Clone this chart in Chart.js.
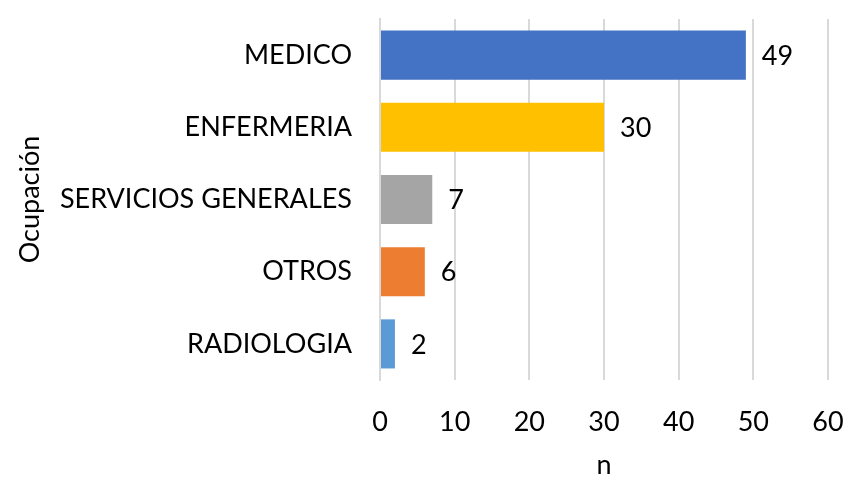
<!DOCTYPE html>
<html>
<head>
<meta charset="utf-8">
<script src="https://cdn.jsdelivr.net/npm/chart.js@4/dist/chart.umd.min.js"></script>
<style>
  html, body { margin: 0; padding: 0; background: #fff; }
  #wrap { width: 864px; height: 483px; }
</style>
</head>
<body>
<div id="wrap"><canvas id="occChart" width="864" height="483"></canvas></div>
<script>
// Data
const categories = ['MEDICO', 'ENFERMERIA', 'SERVICIOS GENERALES', 'OTROS', 'RADIOLOGIA'];
const counts = [49, 30, 7, 6, 2];
const barColors = ['#4472C4', '#FFC000', '#A5A5A5', '#ED7D31', '#5B9BD5'];

const FONT = 'Lato, "Open Sans", sans-serif';
const FSIZE = 27;

// draw the value next to each bar end
const valueLabels = {
    id: 'valueLabels',
    afterDatasetsDraw(chart) {
        const ctx = chart.ctx;
        const meta = chart.getDatasetMeta(0);
        ctx.save();
        ctx.font = FSIZE + 'px ' + FONT;
        ctx.fillStyle = '#000';
        ctx.textAlign = 'left';
        ctx.textBaseline = 'middle';
        meta.data.forEach((bar, i) => {
            ctx.fillText(String(counts[i]), bar.x + 16, bar.y + 1);
        });
        ctx.restore();
    }
};

new Chart(document.getElementById('occChart').getContext('2d'), {
    type: 'bar',
    data: {
        labels: categories,
        datasets: [{
            data: counts,
            backgroundColor: barColors,
            borderWidth: 0,
            categoryPercentage: 0.68,
            barPercentage: 1
        }]
    },
    options: {
        indexAxis: 'y',
        responsive: false,
        animation: false,
        layout: { padding: { top: 19, right: 36, bottom: 0, left: 14 } },
        plugins: {
            legend: { display: false },
            tooltip: { enabled: false }
        },
        scales: {
            x: {
                min: 0,
                max: 60,
                ticks: { stepSize: 10, color: '#000', font: { family: FONT, size: FSIZE }, padding: 26 },
                grid: { color: '#d9d9d9', lineWidth: 2, drawTicks: false },
                border: { display: false },
                title: { display: true, text: 'n', color: '#000', font: { family: FONT, size: FSIZE }, padding: { top: 0, bottom: 2 } },
                afterFit(scale) {
                    scale.height = 103;
                    scale.paddingLeft = 0;
                    scale.paddingRight = 0;
                }
            },
            y: {
                ticks: { color: '#000', font: { family: FONT, size: FSIZE }, padding: 28 },
                grid: { display: false, drawTicks: false },
                border: { display: true, color: '#d9d9d9', width: 2 },
                title: { display: true, text: 'Ocupación', color: '#000', font: { family: FONT, size: FSIZE }, padding: 0 },
                afterFit(scale) {
                    scale.width = 366;
                    scale.paddingTop = 0;
                    scale.paddingBottom = 0;
                }
            }
        }
    },
    plugins: [valueLabels]
});
</script>
</body>
</html>
